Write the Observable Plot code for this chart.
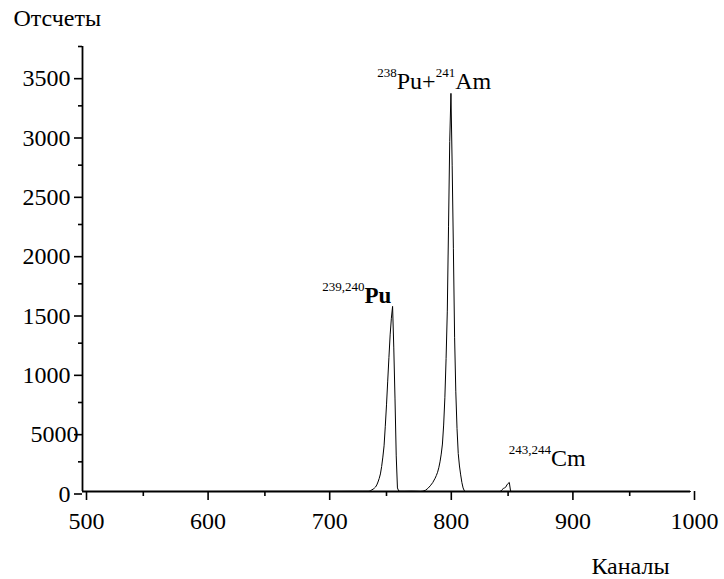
<!DOCTYPE html>
<html>
<head>
<meta charset="utf-8">
<script src="https://cdn.jsdelivr.net/npm/d3@7"></script>
<script src="https://cdn.jsdelivr.net/npm/@observablehq/plot@0.6"></script>
<style>
  html, body { margin: 0; padding: 0; background: #fff; }
</style>
</head>
<body>
<div id="chart"></div>
<script>
// ---- Spectrum data (channel, counts) ----
const channels = [
  500, 600, 650, 700, 720, 730, 735, 736, 737, 738, 739, 740, 741, 742, 743, 744,
  745, 746, 747, 748, 749, 750, 751, 752, 753, 754, 755, 756, 757, 758, 759, 760,
  761, 765, 770, 775, 778, 780, 782, 784, 786, 788, 790, 791, 792, 793, 794, 795,
  796, 797, 798, 799, 800, 801, 802, 803, 804, 805, 806, 807, 808, 809, 810, 811,
  812, 813, 814, 815, 820, 830, 840, 843, 844, 845, 846, 847, 848, 849, 850, 851,
  852, 853, 860, 900, 950, 1000
];
const counts = [
  0, 0, 1, 1, 2, 2, 2, 4, 8, 14, 20, 28, 38, 55, 80, 110,
  148, 210, 290, 385, 550, 730, 930, 1130, 1320, 1460, 1560, 1210, 780, 300, 30, 5,
  2, 2, 3, 2, 1, 3, 10, 26, 48, 75, 112, 135, 162, 200, 250, 315,
  400, 560, 790, 1120, 1520, 2230, 2950, 3355, 2750, 2050, 1300, 840, 530, 320, 215, 140,
  75, 30, 6, 0, 0, 0, 0, 0, 3, 15, 25, 30, 36, 55, 68, 76,
  5, 0, 0, 0, 0, 0
];

// ---- Axes ----
const xTicks = [500, 600, 700, 800, 900, 1000];
const xTickLabels = ["500", "600", "700", "800", "900", "1000"];
const xMinorTicks = [550, 650, 750, 850, 950];
const yTicks = [0, 500, 1000, 1500, 2000, 2500, 3000, 3500];
const yTickLabels = ["0", "5000", "1000", "1500", "2000", "2500", "3000", "3500"];
const yMinorTicks = [250, 750, 1250, 1750, 2250, 2750, 3250, 3750];
const yAxisTitle = "Отсчеты";
const xAxisTitle = "Каналы";

// ---- Peak annotations: anchor (channel, counts) of the label start/baseline ----
const annChannel = [742.4, 697.1, 850.6];
const annCounts = [3390, 1591, 211];
const annText = ["238Pu+241Am", "239,240Pu", "243,244Cm"];
const annParts = [
  [["238", true], ["Pu+", false], ["241", true], ["Am", false]],
  [["239,240", true], ["Pu", false]],
  [["243,244", true], ["Cm", false]]
];
const annBold = [false, true, false];

const spectrum = channels.map((c, i) => ({channel: c, count: counts[i]}));
const annotations = annChannel.map((c, i) => ({channel: c, count: annCounts[i], text: annText[i]}));

const FONT = "'Liberation Serif', 'Times New Roman', 'DejaVu Serif', 'Noto Serif', Times, serif";
const FS = 24;

const plot = Plot.plot({
  width: 724,
  height: 579,
  marginLeft: 82,
  marginRight: 34,
  marginTop: 46,
  marginBottom: 88,
  style: `background:#fff;color:#000;font-family:${FONT};font-size:24px;`,
  x: {domain: [500, 1000], label: null},
  y: {domain: [0, 3750], label: null},
  marks: [
    // axis lines
    Plot.ruleX([500], {stroke: "#000", strokeWidth: 1.8}),
    Plot.ruleY([0], {stroke: "#000", strokeWidth: 1.8}),
    // y axis
    Plot.axisY({ticks: yTicks, tickSize: 8, tickPadding: 4, dy: 2.5,
      tickFormat: (d, i) => yTickLabels[i], label: null, strokeWidth: 1.6,
      fontFamily: FONT, fontSize: FS, fill: "#000"}),
    Plot.axisY({ticks: yMinorTicks, tickSize: 4, tickFormat: () => "", label: null, strokeWidth: 1.6}),
    // x axis
    Plot.axisX({ticks: xTicks, tickSize: 9, tickPadding: 11, dx: 4,
      tickFormat: (d, i) => xTickLabels[i], label: null, strokeWidth: 1.6,
      fontFamily: FONT, fontSize: FS, fill: "#000"}),
    Plot.axisX({ticks: xMinorTicks, tickSize: 5, tickFormat: () => "", label: null, strokeWidth: 1.6}),
    // spectrum
    Plot.line(spectrum, {x: "channel", y: "count", stroke: "#000", strokeWidth: 1}),
    // annotations
    Plot.text(annotations, {x: "channel", y: "count", text: "text",
      textAnchor: "start", lineAnchor: "bottom", fill: "#000", fontFamily: FONT, fontSize: FS}),
    // axis titles
    Plot.text([yAxisTitle], {text: d => d, frameAnchor: "top-left", dx: -69, dy: -21,
      textAnchor: "start", lineAnchor: "bottom", fill: "#000", fontFamily: FONT, fontSize: FS}),
    Plot.text([xAxisTitle], {text: d => d, frameAnchor: "bottom-right", dx: -60, dy: 82,
      textAnchor: "middle", lineAnchor: "bottom", fill: "#000", fontFamily: FONT, fontSize: FS})
  ]
});

// Superscripts for isotope labels
d3.select(plot).selectAll("text").each(function() {
  const i = annText.indexOf(this.textContent);
  if (i < 0) return;
  const t = d3.select(this);
  t.text(null);
  let raised = false;
  annParts[i].forEach(([s, sup]) => {
    const ts = t.append("tspan").text(s);
    if (sup) {
      ts.attr("font-size", 13);
      if (!raised) { ts.attr("dy", -12); raised = true; }
    } else {
      if (annBold[i]) ts.attr("font-weight", "bold").attr("font-size", 23);
      if (raised) { ts.attr("dy", 12); raised = false; }
    }
  });
});

// The "5000" tick label sits slightly further right in the original
d3.select(plot).selectAll("text").each(function() {
  if (this.textContent === "5000") d3.select(this).attr("dx", 8);
});

document.getElementById("chart").appendChild(plot);
</script>
</body>
</html>
